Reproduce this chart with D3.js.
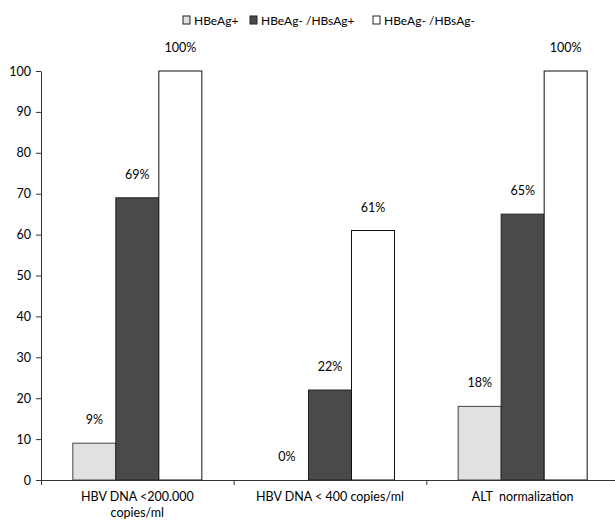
<!DOCTYPE html>
<html>
<head>
<meta charset="utf-8">
<script src="https://cdn.jsdelivr.net/npm/d3@7"></script>
<style>
  html, body { margin: 0; padding: 0; background: #fff; }
  svg { display: block; font-family: "Lato", "Open Sans", sans-serif; }
</style>
</head>
<body>
<svg id="chart" width="615" height="527"></svg>
<script>
// Response categories (x axis), with line breaks for wrapped labels
const categories = ["HBV DNA <200.000|copies/ml", "HBV DNA < 400 copies/ml", "ALT  normalization"];
// Patient groups (legend)
const seriesNames = ["HBeAg+", "HBeAg- /HBsAg+", "HBeAg- /HBsAg-"];
// Percentage of patients per group, per category
const hbeagPos = [9, 0, 18];
const hbeagNegHbsagPos = [69, 22, 65];
const hbeagNegHbsagNeg = [100, 61, 100];
const yTicks = [0, 10, 20, 30, 40, 50, 60, 70, 80, 90, 100];

const seriesValues = [hbeagPos, hbeagNegHbsagPos, hbeagNegHbsagNeg];
const fills = ["#e1e1e1", "#4a4a4a", "#ffffff"];
const strokes = ["#444", "#222", "#111"];

const svg = d3.select("#chart");
const plotLeft = 41, plotRight = 619, plotTop = 71, plotBottom = 480;

const x0 = d3.scaleBand().domain(categories).range([plotLeft, plotRight]).padding(0);
const x1 = d3.scaleBand().domain(seriesNames).range([0, x0.bandwidth()])
  .paddingInner(0).paddingOuter(0.74);
const y = d3.scaleLinear().domain([0, 100]).range([plotBottom, plotTop]);

// Bars
const groups = svg.append("g").selectAll("g")
  .data(categories)
  .join("g")
  .attr("transform", d => `translate(${x0(d)},0)`);

const cells = groups.selectAll("g")
  .data((c, ci) => seriesNames.map((s, si) => ({ s, si, v: seriesValues[si][ci] })))
  .join("g");

cells.append("rect")
  .attr("x", d => x1(d.s))
  .attr("y", d => y(d.v))
  .attr("width", x1.bandwidth())
  .attr("height", d => y(0) - y(d.v))
  .attr("fill", d => fills[d.si])
  .attr("stroke", d => strokes[d.si])
  .attr("stroke-width", 1);

// Value labels above bars
cells.append("text")
  .attr("x", d => x1(d.s) + x1.bandwidth() / 2)
  .attr("y", d => y(d.v) - 19)
  .attr("text-anchor", "middle")
  .attr("font-size", 12.5)
  .attr("fill", "#000")
  .text(d => d.v + "%");

// Y axis
const yAxis = svg.append("g")
  .attr("transform", `translate(${plotLeft},0)`)
  .call(d3.axisLeft(y).tickValues(yTicks).tickSize(5).tickSizeOuter(0).tickPadding(5));
yAxis.selectAll("text").attr("font-size", 12.5).attr("fill", "#000")
  .attr("font-family", "Lato, 'Open Sans', sans-serif");
yAxis.selectAll("line, path").attr("stroke", "#333");

// X axis: line with ticks at category boundaries
const xb = d3.scaleLinear().domain([0, categories.length]).range([plotLeft, plotRight]);
const xAxis = svg.append("g")
  .attr("transform", `translate(0,${plotBottom})`)
  .call(d3.axisBottom(xb).tickValues(d3.range(categories.length + 1))
    .tickSize(5).tickSizeOuter(0).tickFormat(""));
xAxis.selectAll("line, path").attr("stroke", "#333");

// Category labels
svg.append("g").selectAll("text")
  .data(categories)
  .join("text")
  .attr("x", d => x0(d) + x0.bandwidth() / 2)
  .attr("y", 501)
  .attr("text-anchor", "middle")
  .attr("font-size", 12.5)
  .attr("fill", "#000")
  .style("white-space", "pre")
  .each(function (d) {
    const parts = d.split("|");
    d3.select(this).selectAll("tspan")
      .data(parts)
      .join("tspan")
      .attr("x", x0(d) + x0.bandwidth() / 2)
      .attr("dy", (p, i) => i === 0 ? 0 : 16)
      .text(p => p);
  });

// Legend
const legendX = [183, 250, 373];
const legend = svg.append("g").selectAll("g")
  .data(seriesNames)
  .join("g")
  .attr("transform", (d, i) => `translate(${legendX[i]},16)`);
legend.append("rect")
  .attr("width", 7).attr("height", 8)
  .attr("fill", (d, i) => fills[i])
  .attr("stroke", "#222").attr("stroke-width", 1);
legend.append("text")
  .attr("x", 11).attr("y", 8.5)
  .attr("font-size", 12)
  .attr("fill", "#000")
  .text(d => d);
</script>
</body>
</html>
